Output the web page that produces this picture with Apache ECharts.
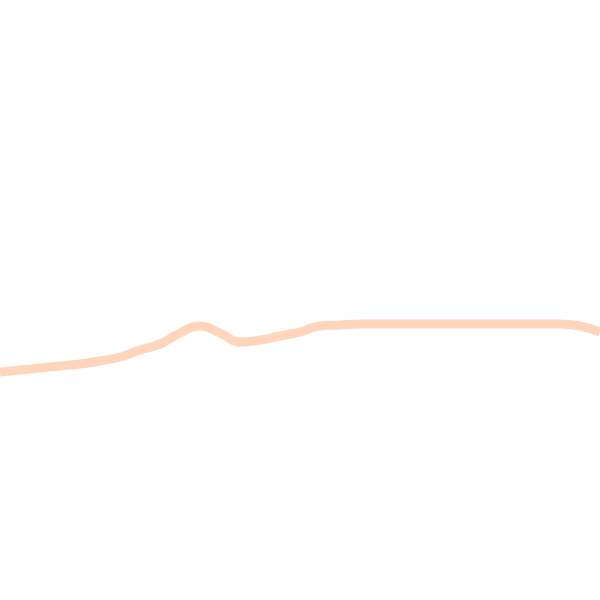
<!DOCTYPE html>
<html><head><meta charset="utf-8">
<script src="https://cdn.jsdelivr.net/npm/echarts@6/dist/echarts.min.js"></script>
<style>html,body{margin:0;padding:0;background:#fff}#c{width:600px;height:600px}</style>
</head><body><div id="c"></div>
<script>
const categories = ['0','1','2','3','4','5','6','7','8','9','10','11','12','13','14','15','16','17','18','19','20','21','22','23','24','25','26','27','28','29','30'];
const values = [228,230,232,234,236,239,243,250,256,267,274,267,258,260,264,268,274,275,276,276,276,276,276,276,276,276,276,276,276,274,268];
const chart = echarts.init(document.getElementById('c'));
chart.setOption({
  animation:false,
  grid:{left:0,right:0,top:0,bottom:0},
  xAxis:{type:'category',data:categories,boundaryGap:false,show:false},
  yAxis:{type:'value',min:0,max:600,show:false},
  series:[{type:'line',data:values,smooth:true,showSymbol:false,
    lineStyle:{color:'#ffd6bb',width:9}}]
});
</script></body></html>
